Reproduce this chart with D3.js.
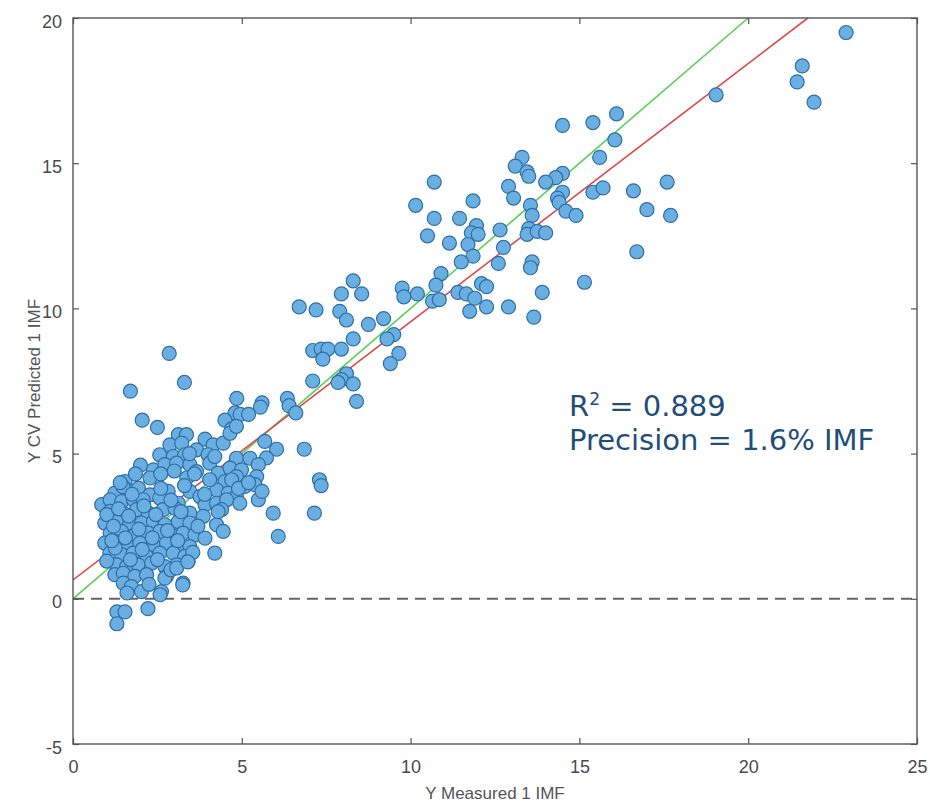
<!DOCTYPE html>
<html><head><meta charset="utf-8">
<script src="https://cdn.jsdelivr.net/npm/d3@7/dist/d3.min.js"></script>
<style>body{margin:0;background:#fff}</style>
</head><body>
<svg id="chart" width="930" height="804"></svg>
<script>
const xTicks = [0, 5, 10, 15, 20, 25];
const yTicks = [-5, 0, 5, 10, 15, 20];
const xTitle = "Y Measured 1 IMF";
const yTitle = "Y CV Predicted 1 IMF";
const fitIntercept = 0.65;
const fitSlope = 0.889;
const statR2 = "0.889";
const statPrecision = "Precision = 1.6% IMF";

// Measured (x) and CV-predicted (y) values
const measured = [
14.5,15.4,16.1,16.05,15.6,13.3,13.1,13.45,13.5,14.5,14.3,14.0,12.9,10.7,10.15,11.85,13.05,14.5,14.35,14.4,15.4,15.7,16.6,17.6,17.0,17.7,13.55,13.6,14.6,14.9,10.7,11.45,11.95,11.8,12.0,12.65,13.5,13.45,13.75,14.0,10.5,11.15,11.7,12.75,11.85,11.5,12.6,13.6,13.55,16.7,10.9,10.75,12.1,12.25,15.15,9.75,9.8,10.2,11.4,11.65,11.9,13.9,10.65,10.85,12.25,12.9,11.75,13.65,
22.9,21.6,21.45,21.95,19.05,
8.3,7.95,8.55,6.7,7.2,7.9,8.1,8.75,9.2,8.3,9.5,9.3,7.1,7.35,7.55,7.95,7.4,9.65,9.4,7.1,8.1,7.95,7.85,8.3,8.4,6.35,6.4,6.6,6.85,7.3,7.35,7.15,3.3,2.85,2.05,2.5,1.7,
4.85,5.6,5.55,4.8,4.95,5.2,4.5,4.7,
3.12,3.36,3.91,2.87,3.22,4.15,4.45,4.65,4.84,5.68,6.03,5.73,2.57,2.97,3.31,3.66,4.0,4.84,5.24,5.49,2.38,2.72,3.07,3.46,3.66,4.05,4.3,4.65,4.99,5.44,5.39,1.54,2.28,3.37,4.5,4.84,5.09,1.24,1.59,1.94,2.28,2.82,3.46,3.76,4.25,4.6,4.84,5.49,0.85,1.1,1.44,1.79,2.08,2.57,3.12,3.91,4.25,4.55,4.94,1.1,1.49,1.88,2.23,2.67,3.02,3.46,3.86,4.4,5.93,0.94,1.29,1.68,2.03,2.38,2.72,3.12,3.46,4.25,4.45,1.1,1.44,1.83,2.23,2.57,2.92,3.26,3.61,3.91,6.08,0.94,1.24,1.59,1.98,2.38,2.77,3.12,3.46,1.09,1.44,1.78,2.18,2.57,2.97,3.31,4.2,1.29,1.59,1.93,2.33,2.72,3.07,3.41,1.24,1.49,1.83,2.18,2.77,1.49,1.73,2.03,2.62,2.72,3.26,2.58,1.48,
1.3,1.54,2.22,1.3,
1.0,1.2,1.35,1.65,1.75,2.1,2.45,2.6,2.9,3.2,3.3,1.55,1.95,2.35,2.8,3.1,1.25,1.7,2.05,2.5,2.9,3.55,3.7,3.9,4.05,4.3,3.6,2.0,2.6,1.4,1.85,1.15,1.0,3.0,3.45,4.2,4.7,4.9,5.2,5.6,1.6,3.07,3.25,3.4,2.25
];
const predicted = [
16.3,16.4,16.7,15.8,15.2,15.2,14.9,14.7,14.55,14.65,14.5,14.35,14.2,14.35,13.55,13.7,13.8,14.0,13.8,13.65,14.0,14.15,14.05,14.35,13.4,13.2,13.55,13.2,13.35,13.2,13.1,13.1,12.85,12.6,12.55,12.7,12.75,12.55,12.65,12.6,12.5,12.25,12.2,12.1,11.8,11.6,11.55,11.6,11.4,11.95,11.2,10.8,10.85,10.75,10.9,10.7,10.4,10.5,10.55,10.5,10.35,10.55,10.25,10.3,10.05,10.05,9.9,9.7,
19.5,18.35,17.8,17.1,17.35,
10.95,10.5,10.5,10.05,9.95,9.9,9.6,9.45,9.65,8.95,9.1,8.95,8.55,8.6,8.6,8.6,8.25,8.45,8.1,7.5,7.75,7.55,7.45,7.4,6.8,6.9,6.65,6.4,5.15,4.1,3.9,2.95,7.45,8.45,6.15,5.9,7.15,
6.9,6.75,6.6,6.4,6.35,6.35,6.15,5.85,
5.65,5.65,5.5,5.3,5.36,5.3,5.36,5.7,5.94,5.42,5.15,4.85,4.96,4.9,4.96,5.13,4.96,4.84,4.84,4.62,4.44,4.62,4.67,4.62,4.38,4.67,4.33,4.5,4.44,4.21,3.93,4.04,4.16,4.16,4.04,4.21,3.87,3.64,3.75,3.81,3.58,3.7,3.7,3.52,3.75,3.64,3.52,3.41,3.24,3.41,3.35,3.41,3.41,3.47,3.29,3.24,3.29,3.41,3.29,3.01,2.95,3.07,2.95,3.07,3.12,2.95,2.84,3.07,2.95,2.61,2.66,2.61,2.61,2.66,2.55,2.66,2.61,2.55,2.32,2.26,2.32,2.2,2.26,2.32,2.2,2.26,2.2,2.09,2.15,1.92,1.97,1.86,1.92,1.86,1.92,1.86,1.8,1.57,1.52,1.57,1.46,1.57,1.57,1.46,1.57,1.17,1.11,1.17,1.23,1.11,1.17,1.29,0.83,0.88,0.77,0.83,0.77,0.54,0.42,0.25,0.25,0.71,0.54,0.14,3.86,
-0.45,-0.45,-0.34,-0.86,
2.9,2.5,3.1,2.85,3.6,3.2,2.9,3.8,3.4,3.0,3.9,2.1,2.4,2.1,2.35,2.0,1.75,1.35,1.7,1.35,1.0,1.6,2.5,3.6,4.1,3.0,4.3,4.6,4.3,4.0,4.3,2.0,1.3,4.4,5.0,4.9,4.1,3.8,4.0,3.7,0.2,1.06,0.48,1.27,0.5
];

const W = 930, H = 804;
const m = {left: 73, right: 13, top: 18, bottom: 60};
const svg = d3.select("#chart");
const x = d3.scaleLinear().domain([0, 25]).range([m.left, W - m.right]);
const y = d3.scaleLinear().domain([-5, 20]).range([H - m.bottom, m.top]);

const axisColor = "#555";
const tickFont = "'Liberation Sans', Arial, Helvetica, sans-serif";

svg.append("defs").append("clipPath").attr("id", "clip")
  .append("rect").attr("x", x(0)).attr("y", y(20))
  .attr("width", x(25) - x(0)).attr("height", y(-5) - y(20));

const plot = svg.append("g").attr("clip-path", "url(#clip)");

// identity line (green)
plot.append("line")
  .attr("x1", x(0)).attr("y1", y(0)).attr("x2", x(20)).attr("y2", y(20))
  .attr("stroke", "#5ad35a").attr("stroke-width", 1.6);
// fitted line (red)
const xEnd = (20 - fitIntercept) / fitSlope;
plot.append("line")
  .attr("x1", x(0)).attr("y1", y(fitIntercept)).attr("x2", x(xEnd)).attr("y2", y(20))
  .attr("stroke", "#e0474a").attr("stroke-width", 1.6);
// zero line
plot.append("line")
  .attr("x1", x(0)).attr("x2", x(25)).attr("y1", y(0)).attr("y2", y(0))
  .attr("stroke", "#666").attr("stroke-width", 2).attr("stroke-dasharray", "11,7");

// points
const pts = measured.map((v, i) => [v, predicted[i]]);
plot.append("g").selectAll("circle").data(pts).join("circle")
  .attr("cx", d => x(d[0])).attr("cy", d => y(d[1])).attr("r", 7)
  .attr("fill", "#6aafe1").attr("stroke", "#2f6ea6").attr("stroke-width", 1.2);

// axes
const fmt = d => String(d);
function styleAxis(g) {
  g.attr("font-family", null);
  g.select(".domain").remove();
  g.selectAll(".tick line").attr("stroke", axisColor).attr("stroke-width", 1.2);
  g.selectAll("text").attr("fill", "#4a4a4a").style("font-family", tickFont).style("font-size", "18px");
}
svg.append("g").attr("transform", `translate(0,${y(-5)})`)
  .call(d3.axisBottom(x).tickValues(xTicks).tickSizeInner(-6).tickSizeOuter(0).tickPadding(16).tickFormat(fmt))
  .call(styleAxis);
svg.append("g").attr("transform", `translate(${x(0)},0)`)
  .call(d3.axisLeft(y).tickValues(yTicks).tickSizeInner(-6).tickSizeOuter(0).tickPadding(11).tickFormat(fmt))
  .call(styleAxis)
  .selectAll("text").attr("dy", "0.5em");
svg.append("g").attr("transform", `translate(0,${y(20)})`)
  .call(d3.axisTop(x).tickValues(xTicks).tickSizeInner(-6).tickSizeOuter(0).tickFormat(""))
  .call(styleAxis);
svg.append("g").attr("transform", `translate(${x(25)},0)`)
  .call(d3.axisRight(y).tickValues(yTicks).tickSizeInner(-6).tickSizeOuter(0).tickFormat(""))
  .call(styleAxis);

svg.append("rect").attr("x", x(0)).attr("y", y(20))
  .attr("width", x(25) - x(0)).attr("height", y(-5) - y(20))
  .attr("fill", "none").attr("stroke", axisColor).attr("stroke-width", 1.4);

// titles
svg.append("text").attr("x", (x(0) + x(25)) / 2).attr("y", 799)
  .attr("text-anchor", "middle").attr("fill", "#555")
  .style("font-family", tickFont).style("font-size", "17px").text(xTitle);
svg.append("text").attr("transform", `translate(40,${(y(20) + y(-5)) / 2}) rotate(-90)`)
  .attr("text-anchor", "middle").attr("fill", "#555")
  .style("font-family", tickFont).style("font-size", "17px").text(yTitle);

// annotation (one text block, two lines)
const t = svg.append("text").attr("x", 569).attr("y", 415.5).attr("fill", "#1f4e79")
  .style("font-family", "'DejaVu Sans', sans-serif").style("font-size", "29px");
t.append("tspan").text("R");
t.append("tspan").attr("dy", -11).style("font-size", "17px").text("2");
t.append("tspan").attr("dy", 11).text(" = " + statR2);
t.append("tspan").attr("x", 569).attr("dy", 34).text(statPrecision);
</script>
</body></html>
